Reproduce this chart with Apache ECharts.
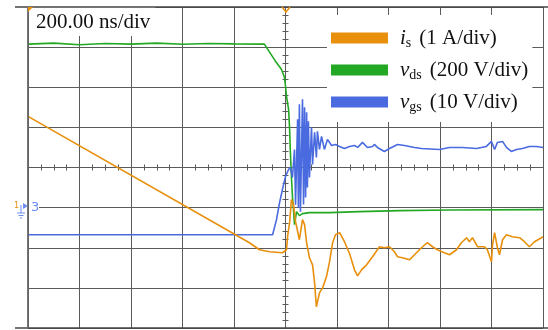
<!DOCTYPE html>
<html>
<head>
<meta charset="utf-8">
<script src="https://cdn.jsdelivr.net/npm/echarts@6/dist/echarts.min.js"></script>
<style>
  html, body { margin: 0; padding: 0; background: #fff; }
  #chart { width: 548px; height: 330px; }
</style>
</head>
<body>
<div id="chart"></div>
<script>
// time in ns relative to the trigger, amplitude in divisions
const timeRange = [-1000, 1000];
const divRange = [-4, 4];

const isTrace = [
  [-1000, 1.275], [-140, -1.875], [-101, -2.05], [-62, -2.1], [-12, -2.125],
  [4, -2.05], [8, -1.725], [16, -1.375], [23, -0.8], [31, -0.925], [39, -1.35],
  [54, -1.8], [66, -1.3], [74, -1.425], [82, -1.875], [93, -2.25], [105, -2.425],
  [113, -2.875], [120, -3.475], [132, -3.125], [144, -3.0], [159, -2.725],
  [171, -2.35], [183, -1.875], [194, -1.675], [210, -1.625], [229, -1.85],
  [249, -2.15], [268, -2.55], [280, -2.7], [295, -2.55], [315, -2.425],
  [338, -2.225], [365, -1.975], [384, -2.0], [404, -1.975], [423, -2.1],
  [435, -2.225], [454, -2.25], [482, -2.3], [501, -2.175], [528, -2.0],
  [551, -1.875], [571, -1.975], [590, -2.05], [617, -2.125], [637, -2.175],
  [664, -2.05], [683, -1.875], [703, -1.75], [714, -1.85], [726, -1.75],
  [746, -1.975], [773, -1.975], [784, -2.05], [800, -2.35], [804, -1.925],
  [812, -1.625], [823, -2.0], [831, -2.175], [843, -1.8], [858, -1.675],
  [881, -1.725], [909, -1.75], [928, -1.85], [947, -1.975], [967, -1.85],
  [994, -1.75], [1000, -1.725]
];

const vdsTrace = [
  [-1000, 3.075], [-900, 3.1], [-800, 3.06], [-700, 3.09], [-600, 3.075],
  [-500, 3.1], [-400, 3.07], [-300, 3.09], [-200, 3.08], [-82, 3.075],
  [-62, 2.875], [-39, 2.65], [-16, 2.45], [-4, 2.25], [0, 2.025], [4, 1.775],
  [12, 1.45], [16, 0.95], [19, 0.375], [23, -0.225], [27, -0.725], [31, -1.05],
  [35, -1.425], [43, -1.1], [54, -1.2], [66, -1.15], [93, -1.125], [171, -1.125],
  [287, -1.1], [443, -1.075], [637, -1.06], [1000, -1.05]
];

const vgsTrace = [
  [-1000, -1.675], [-50, -1.675], [-35, -1.3], [-23, -0.875], [-12, -0.55],
  [0, -0.225], [12, -0.05], [19, 0], [27, -0.25], [35, 0.45], [39, -0.925],
  [47, 1.2], [50, -1.0], [54, 1.575], [58, -1.1], [66, 1.7], [70, -0.925],
  [74, 1.5], [78, -0.75], [82, 1.375], [85, -0.5], [89, 1.15], [93, -0.25],
  [101, 1.0], [105, 0.075], [113, 0.875], [120, 0.25], [124, 0.9], [132, 0.45],
  [140, 0.775], [151, 0.45], [163, 0.7], [179, 0.55], [194, 0.575], [210, 0.525],
  [229, 0.475], [249, 0.525], [268, 0.55], [280, 0.5], [299, 0.625], [318, 0.5],
  [338, 0.525], [345, 0.575], [357, 0.5], [384, 0.4], [404, 0.475], [435, 0.575],
  [462, 0.55], [501, 0.5], [528, 0.475], [598, 0.45], [637, 0.5], [687, 0.5],
  [742, 0.475], [780, 0.525], [800, 0.65], [812, 0.45], [823, 0.625], [843, 0.65],
  [858, 0.5], [877, 0.4], [897, 0.45], [920, 0.475], [947, 0.525], [975, 0.525],
  [1000, 0.5]
];

const seriesNames = ['is', 'vds', 'vgs'];
const legendLabels = {
  is: '{gap|}{it|i}{sub|s}(1 A/div)',
  vds: '{gap|}{it|v}{sub|ds}(200 V/div)',
  vgs: '{gap|}{it|v}{sub|gs}(10 V/div)'
};
const colors = { is: '#e8900c', vds: '#22a822', vgs: '#4a6ae0' };

const serif = 'Liberation Serif, Times New Roman, serif';
const gridColor = '#5a5a5a';

const chart = echarts.init(document.getElementById('chart'));

// center axes with small ticks crossing the middle lines
function centerX(pos) {
  return {
    type: 'value', min: timeRange[0], max: timeRange[1], interval: 200,
    position: pos,
    axisLine: { show: true, onZero: true, lineStyle: { color: gridColor } },
    axisTick: { show: true, length: 3, lineStyle: { color: gridColor } },
    minorTick: { show: true, splitNumber: 4, length: 3, lineStyle: { color: gridColor } },
    axisLabel: { show: false },
    splitLine: { show: false }
  };
}
function centerY(pos) {
  return {
    type: 'value', min: divRange[0], max: divRange[1], interval: 1,
    position: pos,
    axisLine: { show: true, onZero: true, lineStyle: { color: gridColor } },
    axisTick: { show: true, length: 3, lineStyle: { color: gridColor } },
    minorTick: { show: true, splitNumber: 5, length: 3, lineStyle: { color: gridColor } },
    axisLabel: { show: false },
    splitLine: { show: false }
  };
}

chart.setOption({
  animation: false,
  title: {
    text: '200.00 ns/div',
    left: 31, top: 7,
    padding: [5, 5, 3, 5],
    backgroundColor: '#fff',
    textStyle: { fontFamily: serif, fontSize: 21, fontWeight: 'normal', color: '#111' },
    z: 5
  },
  legend: {
    data: seriesNames,
    orient: 'vertical',
    left: 327, top: 15,
    padding: [11, 4, 8, 4],
    backgroundColor: '#fff',
    itemWidth: 57, itemHeight: 11, itemGap: 8,
    icon: 'rect',
    selectedMode: false,
    formatter: name => legendLabels[name],
    textStyle: {
      fontFamily: serif, fontSize: 21, color: '#111', lineHeight: 24,
      rich: {
        gap: { width: 7 },
        it: { fontFamily: serif, fontSize: 21, fontStyle: 'italic', color: '#111' },
        sub: { fontFamily: serif, fontSize: 14, color: '#111', padding: [10, 8, 0, 0] }
      }
    },
    z: 5
  },
  grid: { left: 28, right: 5, top: 7, bottom: 2 },
  xAxis: [
    {
      type: 'value', min: timeRange[0], max: timeRange[1], interval: 200,
      axisLine: { show: false }, axisTick: { show: false }, axisLabel: { show: false },
      splitLine: { show: true, lineStyle: { color: gridColor, width: 1 } }
    },
    centerX('bottom'),
    centerX('top')
  ],
  yAxis: [
    {
      type: 'value', min: divRange[0], max: divRange[1], interval: 1,
      axisLine: { show: false }, axisTick: { show: false }, axisLabel: { show: false },
      splitLine: { show: true, lineStyle: { color: gridColor, width: 1 } }
    },
    centerY('left'),
    centerY('right')
  ],
  series: [
    { name: 'vds', data: vdsTrace },
    { name: 'vgs', data: vgsTrace },
    { name: 'is', data: isTrace }
  ].map(s => ({
    name: s.name,
    type: 'line',
    data: s.data,
    showSymbol: false,
    color: colors[s.name],
    lineStyle: { color: colors[s.name], width: 1.6 },
    z: 3
  })),
  graphic: [
    // outer frame lines
    { type: 'line', shape: { x1: 15, y1: 7, x2: 548, y2: 7 }, style: { stroke: '#444', lineWidth: 1.5 }, z: 10 },
    { type: 'line', shape: { x1: 15, y1: 328, x2: 548, y2: 328 }, style: { stroke: '#444', lineWidth: 1.5 }, z: 10 },
    { type: 'line', shape: { x1: 28, y1: 7, x2: 28, y2: 328 }, style: { stroke: '#666', lineWidth: 1.8 }, z: 10 },
    // corner and trigger markers
    { type: 'polygon', shape: { points: [[28, 7], [33, 7], [28, 12]] }, style: { fill: colors.is }, z: 11 },
    { type: 'polyline', shape: { points: [[282, 7], [286, 12], [290, 7]] }, style: { stroke: colors.is, lineWidth: 1.5, fill: null }, z: 11 },
    // channel 3 ground marker
    { type: 'rect', shape: { x: 29, y: 201, width: 10, height: 14 }, style: { fill: '#fff' }, z: 9 },
    { type: 'text', x: 31, y: 208, style: { text: '3', fill: '#6b8cf0', font: '13px DejaVu Sans', textVerticalAlign: 'middle' }, z: 11 },
    { type: 'text', x: 14, y: 206, style: { text: '1', fill: colors.is, font: '8px DejaVu Sans', textVerticalAlign: 'middle' }, z: 11 },
    { type: 'line', shape: { x1: 21, y1: 205, x2: 21, y2: 213 }, style: { stroke: '#6b8cf0', lineWidth: 1 }, z: 11 },
    { type: 'line', shape: { x1: 17, y1: 213, x2: 25, y2: 213 }, style: { stroke: '#6b8cf0', lineWidth: 1 }, z: 11 },
    { type: 'line', shape: { x1: 18.5, y1: 215.5, x2: 23.5, y2: 215.5 }, style: { stroke: '#6b8cf0', lineWidth: 1 }, z: 11 },
    { type: 'line', shape: { x1: 20, y1: 218, x2: 22, y2: 218 }, style: { stroke: '#6b8cf0', lineWidth: 1 }, z: 11 },
    { type: 'polygon', shape: { points: [[23, 203], [28, 206], [23, 209]] }, style: { fill: '#6b8cf0' }, z: 11 }
  ]
});
</script>
</body>
</html>
